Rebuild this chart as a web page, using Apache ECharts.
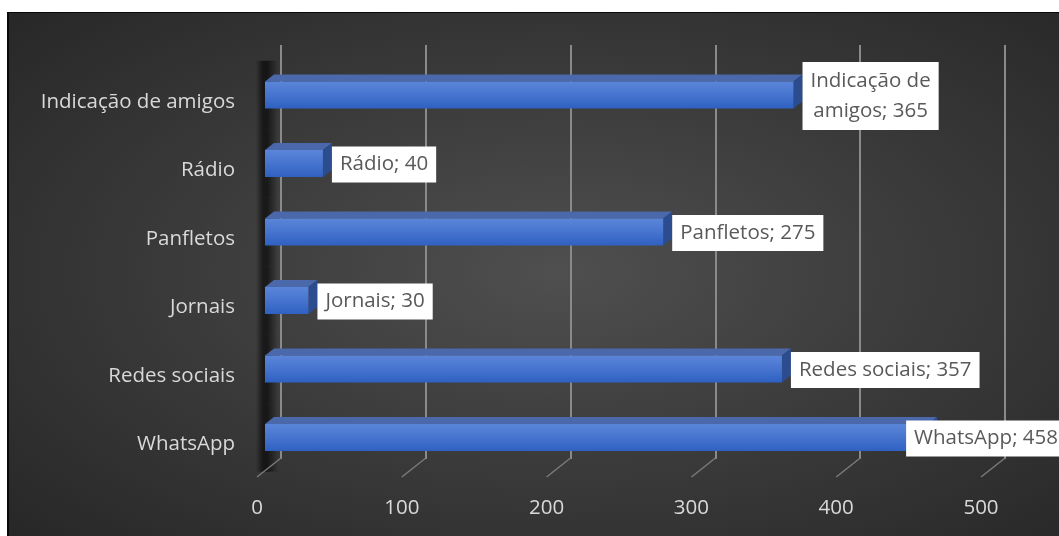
<!DOCTYPE html>
<html>
<head>
<meta charset="utf-8">
<script src="https://cdn.jsdelivr.net/npm/echarts@6/dist/echarts.min.js"></script>
<style>
  html, body { margin: 0; padding: 0; background: #ffffff; width: 1059px; height: 536px; overflow: hidden; }
  #frame { position: absolute; left: 7px; top: 12px; width: 1100px; height: 540px;
    border-left: 2px solid #0a0a0a; border-top: 1px solid #0a0a0a;
    background: radial-gradient(ellipse farthest-corner at 50% 48%, #4f4f4f 0%, #3c3c3c 45%, #262626 100%); }
  #chart { position: absolute; left: 0; top: 0; width: 1059px; height: 536px; }
</style>
</head>
<body>
<div id="frame"></div>
<div id="chart"></div>
<script>
const categories = ['Indicação de amigos', 'Rádio', 'Panfletos', 'Jornais', 'Redes sociais', 'WhatsApp'];
const values = [365, 40, 275, 30, 357, 458];
const xTicks = [0, 100, 200, 300, 400, 500];

const FONT = '"Open Sans", "Noto Sans", sans-serif';
const FS = 20.5;
const measureCtx = document.createElement('canvas').getContext('2d');
measureCtx.font = FS + 'px ' + FONT;
function textW(s) { return measureCtx.measureText(s).width; }

function labelText(name, v) {
  const s = name + '; ' + v;
  if (s.length > 20) {
    const idx = name.lastIndexOf(' ');
    return name.slice(0, idx) + '\n' + name.slice(idx + 1) + '; ' + v;
  }
  return s;
}

const chart = echarts.init(document.getElementById('chart'), null, { renderer: 'canvas' });

const DX = 9, DY = 7, BAR_H = 27;
const PAD_X = 8, PAD_Y = 4, LINE_H = 28;
const RIGHT_LIMIT = 1066;

const option = {
  backgroundColor: 'transparent',
  animation: false,
  grid: [
    { left: 265, width: 724, top: 60.75, height: 411 },   // bars
    { left: 281, width: 724, top: 45, height: 414 },      // back wall gridlines
    { left: 257, width: 724, top: 45, height: 432 },      // front axis labels
    { left: 265, width: 724, top: 67.75, height: 411 }    // category labels (front plane)
  ],
  xAxis: [
    { gridIndex: 0, type: 'value', min: 0, max: 500, interval: 100, show: false },
    { gridIndex: 1, type: 'value', min: 0, max: 500, interval: 100, z: 1,
      axisLine: { show: false }, axisTick: { show: false }, axisLabel: { show: false },
      splitLine: { show: true, lineStyle: { color: '#8a8a8a', width: 2 } } },
    { gridIndex: 2, type: 'value', min: 0, max: 500, interval: 100,
      axisLine: { show: false }, axisTick: { show: false }, splitLine: { show: false },
      axisLabel: { color: '#d9d9d9', fontSize: FS, fontFamily: FONT, margin: 21 } },
    { gridIndex: 3, type: 'value', min: 0, max: 500, interval: 100, show: false }
  ],
  yAxis: [
    { gridIndex: 0, type: 'category', data: categories, inverse: true, show: false },
    { gridIndex: 1, type: 'value', min: 0, max: 1, show: false },
    { gridIndex: 2, type: 'value', min: 0, max: 1, show: false },
    { gridIndex: 3, type: 'category', data: categories, inverse: true,
      axisLine: { show: false }, axisTick: { show: false }, splitLine: { show: false },
      axisLabel: { color: '#d9d9d9', fontSize: FS, fontFamily: FONT, margin: 30 } }
  ],
  series: [
    {
      // soft shadow along the left wall behind the bars
      type: 'custom', xAxisIndex: 0, yAxisIndex: 0, z: 0, silent: true,
      data: categories.map((c, i) => [0, i]),
      renderItem: function (params, api) {
        const p = api.coord([0, api.value(1)]);
        const band = api.size([0, 1])[1];
        return {
          type: 'rect',
          shape: { x: p[0] - 9, y: p[1] - band / 2, width: 22, height: band },
          style: { fill: new echarts.graphic.LinearGradient(0, 0, 1, 0, [
            { offset: 0, color: 'rgba(0,0,0,0)' },
            { offset: 0.3, color: 'rgba(0,0,0,0.55)' },
            { offset: 0.5, color: 'rgba(0,0,0,0.6)' },
            { offset: 0.75, color: 'rgba(0,0,0,0.3)' },
            { offset: 1, color: 'rgba(0,0,0,0)' }
          ]) }
        };
      }
    },
    {
      // floor diagonals from the back wall to the front axis
      type: 'custom', xAxisIndex: 1, yAxisIndex: 1, z: 1, silent: true,
      data: xTicks.map(t => [t, 0]),
      renderItem: function (params, api) {
        const p = api.coord([api.value(0), 0]);
        return {
          type: 'line',
          shape: { x1: p[0], y1: p[1] - 1, x2: p[0] - 24, y2: p[1] + 18 },
          style: { stroke: '#7a7a7a', lineWidth: 1.5 }
        };
      }
    },
    {
      type: 'custom', xAxisIndex: 0, yAxisIndex: 0, z: 3, silent: true,
      data: values.map((v, i) => [v, i]),
      renderItem: function (params, api) {
        const v = api.value(0), ci = api.value(1);
        const p0 = api.coord([0, ci]);
        const p1 = api.coord([v, ci]);
        const x0 = p0[0], x1 = p1[0];
        const yt = p0[1] - BAR_H / 2, yb = yt + BAR_H;
        const txt = labelText(categories[ci], v);
        const lines = txt.split('\n');
        const boxW = Math.max.apply(null, lines.map(textW)) + PAD_X * 2;
        let bx = x1 + DX;
        if (bx + boxW > RIGHT_LIMIT) bx = RIGHT_LIMIT - boxW;
        return {
          type: 'group',
          children: [
            { type: 'polygon',
              shape: { points: [[x0, yt], [x1, yt], [x1 + DX, yt - DY], [x0 + DX, yt - DY]] },
              style: { fill: '#4a68aa' } },
            { type: 'polygon',
              shape: { points: [[x1, yt], [x1 + DX, yt - DY], [x1 + DX, yb - DY], [x1, yb]] },
              style: { fill: '#2b4c8e' } },
            { type: 'rect',
              shape: { x: x0, y: yt, width: x1 - x0, height: BAR_H },
              style: { fill: new echarts.graphic.LinearGradient(0, 0, 0, 1, [
                { offset: 0, color: '#5a85d9' }, { offset: 0.3, color: '#4f7bd3' }, { offset: 1, color: '#2f61c2' }
              ]) } },
            { type: 'text', z2: 10,
              style: {
                text: txt, x: bx + boxW / 2, y: p0[1] + 1,
                align: 'center', verticalAlign: 'middle',
                fill: '#595959', font: FS + 'px ' + FONT, lineHeight: lines.length > 1 ? 30 : LINE_H,
                backgroundColor: '#ffffff', padding: [PAD_Y, PAD_X, PAD_Y, PAD_X]
              } }
          ]
        };
      }
    }
  ]
};
chart.setOption(option);
</script>
</body>
</html>
